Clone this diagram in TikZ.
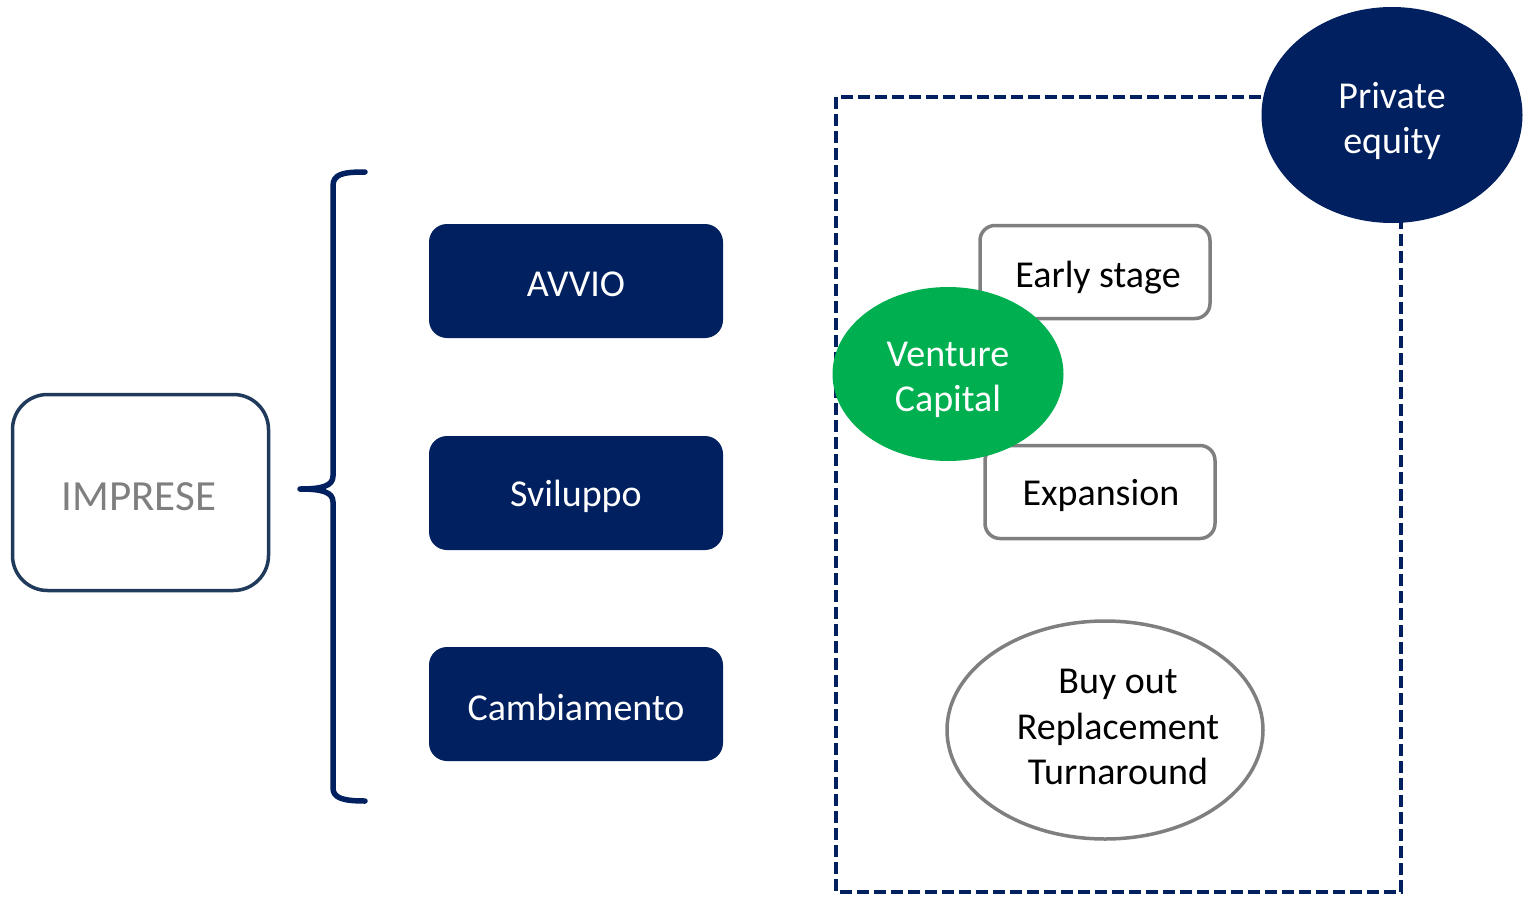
\documentclass[tikz,border=0pt]{standalone}
\usepackage{fontspec}
\setmainfont{Carlito}
\usetikzlibrary{shapes.geometric}
\definecolor{navy}{HTML}{012060}
\definecolor{framenavy}{HTML}{1F3A5A}
\definecolor{vcgreen}{HTML}{00B050}
\definecolor{midgray}{HTML}{7F7F7F}
\begin{document}
\begin{tikzpicture}[x=1pt,y=-1pt,
  txt/.style={font=\fontsize{38}{45.5}\selectfont, align=center, inner sep=0pt},
  stagebox/.style={draw=none, fill=navy, rounded corners=18pt,
    minimum width=294pt, minimum height=114pt},
  phasebox/.style={draw=midgray, line width=3.5pt, fill=white,
    rounded corners=15pt, minimum width=230pt, minimum height=93pt},
  fundoval/.style={ellipse, inner sep=0pt}]
\useasboundingbox (0,0) rectangle (1529,897);

% company node
\node[draw=framenavy, line width=3.5pt, rounded corners=35pt,
  minimum width=256pt, minimum height=196pt] (imprese) at (140.5,492.5) {};
\node[txt, text=midgray, font=\fontsize{43}{50}\selectfont] (impresetxt) at (139,497) {IMPRESE};

% curly brace grouping the three stages
\draw[navy, line width=5.5pt, line cap=round, line join=round]
  (365,172) .. controls (343,172) and (333,174) .. (333,186)
  -- (333,476) .. controls (333,486) and (322,489) .. (300,489)
  .. controls (322,489) and (333,492) .. (333,502)
  -- (333,788) .. controls (333,798) and (343,801) .. (365,801);

% life-cycle stages
\node[stagebox] (avvio) at (576,281) {};
\node[txt, text=white] (avviotxt) at (576,284) {AVVIO};
\node[stagebox] (sviluppo) at (576,493) {};
\node[txt, text=white] (svilupptxt) at (576,496) {Sviluppo};
\node[stagebox] (cambio) at (576,704) {};
\node[txt, text=white] (cambiotxt) at (576,707) {Cambiamento};

% private equity frame
\draw[navy, line width=3.5pt, dash pattern=on 12pt off 5pt] (836,97) rectangle (1401,892);

\node[phasebox] (early) at (1095,272) {};
\node[txt] (earlytxt) at (1098,278) {Early stage};
\node[phasebox] (expansion) at (1100,492) {};
\node[txt] (expansiontxt) at (1101,495) {Expansion};

\node[fundoval, draw=midgray, line width=3.5pt, fill=white,
  minimum width=316pt, minimum height=218pt] (buyout) at (1105,730) {};
\node[txt] (buyouttxt) at (1118,727) {Buy out\\Replacement\\Turnaround};

\node[fundoval, fill=vcgreen, minimum width=231pt, minimum height=174pt] (vc) at (948,374) {};
\node[txt, text=white] (vctxt) at (948,380) {Venture\\Capital};

\node[fundoval, fill=navy, minimum width=261pt, minimum height=216pt] (pe) at (1392,115) {};
\node[txt, text=white] (petxt) at (1392,121) {Private\\equity};
\end{tikzpicture}
\end{document}
